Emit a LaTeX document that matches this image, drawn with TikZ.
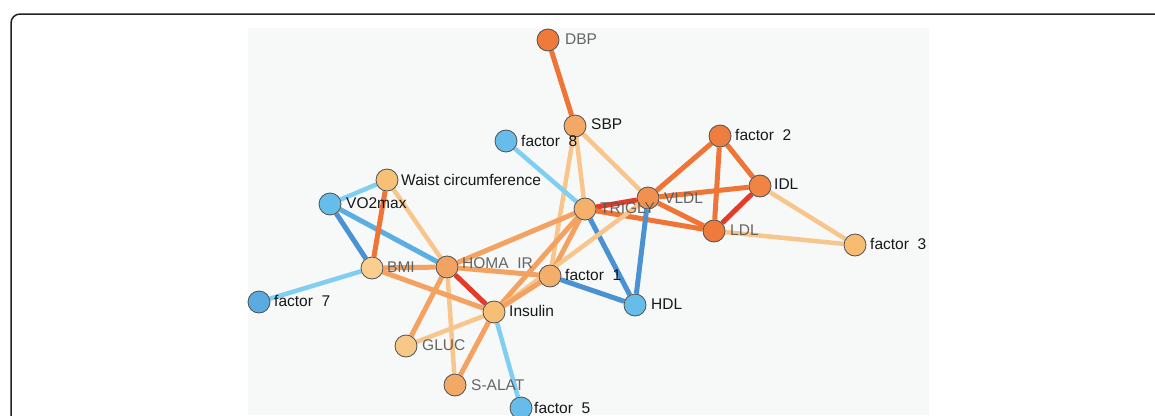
\documentclass[tikz,border=0pt]{standalone}
\usepackage{fontspec}
\setmainfont{Liberation Sans}
\definecolor{panel}{HTML}{F7F8F8}
\definecolor{frame}{HTML}{222222}
\definecolor{nodeline}{HTML}{505050}
\definecolor{labelgray}{HTML}{555555}
\definecolor{eblue}{HTML}{4A92D2}
\definecolor{emblue}{HTML}{5AAEE2}
\definecolor{elblue}{HTML}{80CEF2}
\definecolor{ered}{HTML}{E43A2A}
\definecolor{edark}{HTML}{EE7535}
\definecolor{emid}{HTML}{F4A262}
\definecolor{elight}{HTML}{F8C68C}
\definecolor{nblue}{HTML}{66BDEA}
\definecolor{nblue7}{HTML}{5AABDF}
\definecolor{nDBP}{HTML}{EE7A3C}
\definecolor{nSBP}{HTML}{F3A866}
\definecolor{nF2}{HTML}{EF7D3F}
\definecolor{nIDL}{HTML}{EF8443}
\definecolor{nVLDL}{HTML}{F09150}
\definecolor{nTRI}{HTML}{F5B06C}
\definecolor{nF3}{HTML}{F7BC72}
\definecolor{nWC}{HTML}{F6C076}
\definecolor{nBMI}{HTML}{F9CE90}
\definecolor{nHOMA}{HTML}{F2A262}
\definecolor{nF1}{HTML}{F3AE6A}
\definecolor{nINS}{HTML}{F7BE76}
\definecolor{nGLUC}{HTML}{F8C888}
\definecolor{nALAT}{HTML}{F2A866}
\pgfdeclarelayer{back}
\pgfdeclarelayer{edges}
\pgfdeclarelayer{front}
\pgfsetlayers{back,edges,main,front}
\begin{document}
\begin{tikzpicture}[x=1pt,y=-1pt,
  nd/.style={circle, draw=nodeline, line width=0.8pt, minimum size=22pt, inner sep=0pt},
  lfont/.style={font=\fontsize{15.5}{16}\selectfont},
  bl/.style={lfont, anchor=west, inner sep=0pt, text=black, text opacity=0.9},
  gl/.style={lfont, anchor=west, inner sep=0pt, text=labelgray, text opacity=0.9},
  ed/.style={line width=5pt},
  blue/.style={ed, draw=eblue},
  mblue/.style={ed, draw=emblue},
  lblue/.style={ed, draw=elblue, line width=4.5pt},
  red/.style={ed, draw=ered},
  dark/.style={ed, draw=edark},
  mid/.style={ed, draw=emid},
  light/.style={ed, draw=elight, line width=4.5pt}]
\useasboundingbox (0,0) rectangle (1155,415);
\begin{pgfonlayer}{back}
\draw[frame, line width=1.5pt, rounded corners=9pt] (11,14) rectangle (1175,440);
\fill[panel] (248,28) rectangle (929,415);
\end{pgfonlayer}

% nodes
\node[nd, fill=nDBP] (DBP) at (548,40) {};
\node[nd, fill=nSBP] (SBP) at (575,126) {};
\node[nd, fill=nblue] (F8) at (506,141) {};
\node[nd, fill=nF2] (F2) at (720,136) {};
\node[nd, fill=nIDL] (IDL) at (760,186) {};
\node[nd, fill=nVLDL] (VLDL) at (648,198) {};
\node[nd, fill=nTRI] (TRI) at (585,209) {};
\node[nd, fill=nDBP] (LDL) at (714,231) {};
\node[nd, fill=nF3] (F3) at (855,245) {};
\node[nd, fill=nWC] (WC) at (387,180) {};
\node[nd, fill=nblue] (VO2) at (330,204) {};
\node[nd, fill=nBMI] (BMI) at (372,268) {};
\node[nd, fill=nHOMA] (HOMA) at (447,267) {};
\node[nd, fill=nF1] (F1) at (550,276) {};
\node[nd, fill=nblue] (HDL) at (635,305) {};
\node[nd, fill=nblue7] (F7) at (259,302) {};
\node[nd, fill=nINS] (INS) at (494,312) {};
\node[nd, fill=nGLUC] (GLUC) at (406,346) {};
\node[nd, fill=nALAT] (ALAT) at (455,385) {};
\node[nd, fill=nblue] (F5) at (521,408) {};

% edges
\begin{pgfonlayer}{edges}
\draw[dark] (DBP) -- (SBP);
\draw[light] (SBP) -- (VLDL);
\draw[light] (SBP) -- (TRI);
\draw[light] (SBP) -- (F1);
\draw[lblue] (F8) -- (TRI);
\draw[red] (TRI) -- (VLDL);
\draw[dark] (TRI) -- (LDL);
\draw[dark] (VLDL) -- (LDL);
\draw[dark] (VLDL) -- (IDL);
\draw[dark] (VLDL) -- (F2);
\draw[dark] (F2) -- (IDL);
\draw[dark] (F2) -- (LDL);
\draw[red] (IDL) -- (LDL);
\draw[light] (IDL) -- (F3);
\draw[light] (LDL) -- (F3);
\draw[blue] (TRI) -- (HDL);
\draw[blue] (VLDL) -- (HDL);
\draw[blue] (F1) -- (HDL);
\draw[mid] (TRI) -- (F1);
\draw[mid] (TRI) -- (INS);
\draw[mid] (TRI) -- (HOMA);
\draw[light] (INS) -- (VLDL);
\draw[mid] (INS) -- (F1);
\draw[mid] (HOMA) -- (F1);
\draw[red] (HOMA) -- (INS);
\draw[mid] (HOMA) -- (GLUC);
\draw[light] (HOMA) -- (ALAT);
\draw[mid] (HOMA) -- (BMI);
\draw[light] (HOMA) -- (WC);
\draw[mblue] (HOMA) -- (VO2);
\draw[mid] (BMI) -- (INS);
\draw[dark] (BMI) -- (WC);
\draw[blue] (BMI) -- (VO2);
\draw[lblue] (BMI) -- (F7);
\draw[lblue] (VO2) -- (WC);
\draw[light] (INS) -- (GLUC);
\draw[mid] (INS) -- (ALAT);
\draw[lblue] (INS) -- (F5);
\end{pgfonlayer}

% labels on top
\begin{pgfonlayer}{front}
\node[bl] (lSBP) at (591,124) {SBP};
\node[bl] (lF8) at (521,141) {factor\ \ 8};
\node[bl] (lF2) at (735,135) {factor\ \ 2};
\node[bl] (lIDL) at (774,184) {IDL};
\node[bl] (lF3) at (870,244) {factor\ \ 3};
\node[bl] (lF1) at (565,275) {factor\ \ 1};
\node[bl] (lHDL) at (651,304) {HDL};
\node[bl] (lWC) at (401,180) {Waist\ circumference};
\node[bl] (lVO2) at (346,203) {VO2max};
\node[bl] (lF7) at (274,301) {factor\ \ 7};
\node[bl] (lINS) at (509,311) {Insulin};
\node[bl] (lF5) at (534,408) {factor\ \ 5};
\node[gl] (lDBP) at (565,39) {DBP};
\node[gl] (lTRI) at (600,208) {TRIGLY};
\node[gl] (lVLDL) at (664,198) {VLDL};
\node[gl] (lLDL) at (730,230) {LDL};
\node[gl] (lHOMA) at (462,265) {HOMA\phantom{\_}IR};
\node[gl] (lBMI) at (387,267) {BMI};
\node[gl] (lGLUC) at (422,345) {GLUC};
\node[gl] (lALAT) at (471,385) {S-ALAT};
\end{pgfonlayer}
\end{tikzpicture}
\end{document}
